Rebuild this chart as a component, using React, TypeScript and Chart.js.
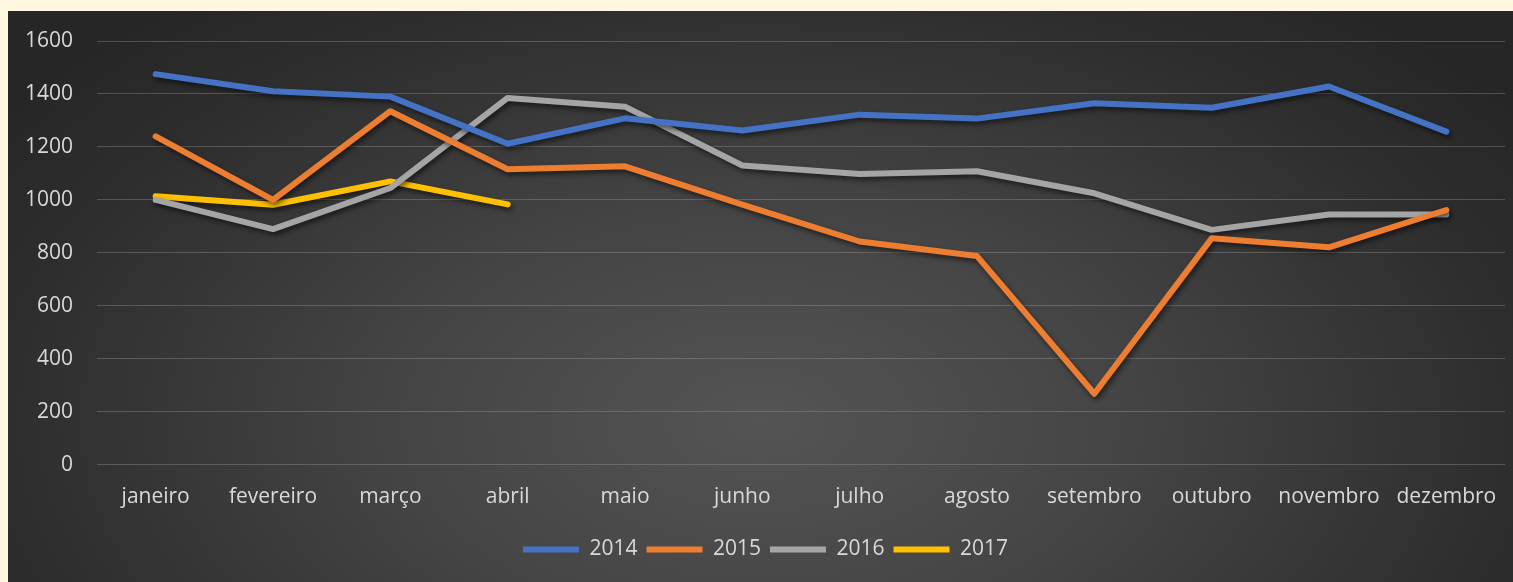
import React, { useEffect, useRef } from "react";
import { Chart, registerables } from "chart.js";

Chart.register(...registerables);

const months = ["janeiro", "fevereiro", "março", "abril", "maio", "junho", "julho", "agosto", "setembro", "outubro", "novembro", "dezembro"];
const s2014 = [1475, 1410, 1390, 1212, 1308, 1262, 1322, 1307, 1365, 1348, 1428, 1258];
const s2015 = [1240, 1000, 1335, 1116, 1127, 982, 843, 788, 268, 855, 821, 962];
const s2016 = [1000, 890, 1045, 1385, 1352, 1130, 1098, 1108, 1025, 887, 945, 945];
const s2017 = [1014, 982, 1070, 983];
const yTicks = [0, 200, 400, 600, 800, 1000, 1200, 1400, 1600];

const FONT = "'Open Sans', sans-serif";

const shadowPlugin = {
  id: "lineShadow",
  beforeDatasetsDraw(chart: any) {
    const ctx = chart.ctx;
    ctx.save();
    ctx.shadowColor = "rgba(0,0,0,0.55)";
    ctx.shadowBlur = 5;
    ctx.shadowOffsetX = 2;
    ctx.shadowOffsetY = 3;
  },
  afterDatasetsDraw(chart: any) {
    chart.ctx.restore();
  },
};

export default function App() {
  const ref = useRef<HTMLCanvasElement | null>(null);
  useEffect(() => {
    document.body.style.background = "#fef7e2";
    const mk = (label: string, data: number[], color: string) => ({
      label,
      data,
      borderColor: color,
      backgroundColor: color,
      borderWidth: 6,
      borderCapStyle: "round" as const,
      borderJoinStyle: "round" as const,
      pointRadius: 0,
      pointHoverRadius: 0,
      tension: 0,
      fill: false,
    });
    const chart = new Chart(ref.current as HTMLCanvasElement, {
      type: "line",
      data: {
        labels: months,
        datasets: [
          mk("2014", s2014, "#4472c4"),
          mk("2015", s2015, "#ed7d31"),
          mk("2016", s2016, "#a5a5a5"),
          mk("2017", s2017, "#ffc000"),
        ],
      },
      options: {
        animation: false,
        responsive: false,
        maintainAspectRatio: false,
        layout: { padding: { left: 18, right: 8, top: 30, bottom: 12 } },
        scales: {
          x: {
            offset: true,
            grid: { display: false, drawTicks: false },
            border: { display: false },
            ticks: { color: "#d9d9d9", padding: 20, font: { family: FONT, size: 21 }, maxRotation: 0, autoSkip: false },
            afterFit(axis: any) {
              axis.paddingLeft = 0;
              axis.paddingRight = 0;
            },
          },
          y: {
            min: 0,
            max: 1600,
            afterBuildTicks(axis: any) {
              axis.ticks = yTicks.map((v) => ({ value: v }));
            },
            afterFit(axis: any) {
              axis.width = 71;
              axis.paddingTop = 0;
              axis.paddingBottom = 0;
            },
            grid: { color: "rgba(170,170,170,0.32)", lineWidth: 1, drawTicks: false },
            border: { display: false },
            ticks: {
              color: "#d9d9d9",
              padding: 24,
              font: { family: FONT, size: 21 },
              callback: (v: any) => String(v),
            },
          },
        },
        plugins: {
          legend: {
            position: "bottom",
            labels: {
              color: "#d9d9d9",
              font: { family: FONT, size: 21 },
              usePointStyle: true,
              pointStyle: "line",
              pointStyleWidth: 56,
              boxHeight: 6,
              padding: 9,
            },
          },
          tooltip: { enabled: false },
        },
      } as any,
      plugins: [shadowPlugin],
    });
    return () => chart.destroy();
  }, []);
  return (
    <div
      style={{
        position: "absolute",
        left: 8,
        top: 11,
        width: 1505,
        height: 571,
        background: "radial-gradient(ellipse 62% 95% at 50% 72%, #545454 0%, #444444 40%, #2e2e2e 80%, #262626 100%)",
      }}
    >
      <canvas ref={ref} width={1505} height={571} style={{ display: "block" }} />
    </div>
  );
}
